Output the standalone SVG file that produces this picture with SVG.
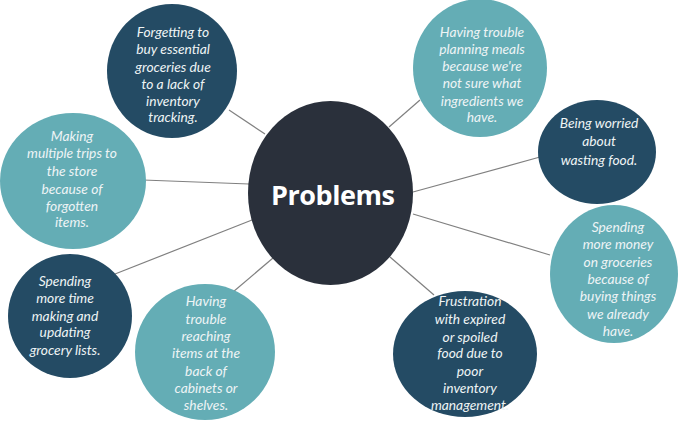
<svg xmlns="http://www.w3.org/2000/svg" width="680" height="429" viewBox="0 0 680 429">
<style>
.dark{fill:#244b64}
.teal{fill:#64adb5}
.hub{fill:#2a303b}
.t{font-family:Lato,"Liberation Sans",sans-serif;font-style:italic;font-size:13.8px;fill:#eef4f5;text-anchor:middle}
.h{font-family:"Open Sans","Liberation Sans",sans-serif;font-weight:bold;font-size:27px;fill:#ffffff;text-anchor:middle}
.c{stroke:#808080;stroke-width:1.2;fill:none}
</style>
<rect width="680" height="429" fill="#ffffff"/>
<g id="connectors">
<line class="c" x1="229" y1="110" x2="265" y2="134"/>
<line class="c" x1="420" y1="100" x2="389" y2="127"/>
<line class="c" x1="143" y1="180" x2="249" y2="184"/>
<line class="c" x1="540" y1="157" x2="413" y2="192"/>
<line class="c" x1="550" y1="255" x2="413" y2="214"/>
<line class="c" x1="115" y1="274" x2="252" y2="220"/>
<line class="c" x1="233" y1="292" x2="273" y2="258"/>
<line class="c" x1="434" y1="295" x2="390" y2="257"/>
</g>
<g id="hub">
<ellipse class="hub" cx="330.5" cy="193" rx="82.5" ry="92"/>
<text class="h" x="333" y="205" textLength="124">Problems</text>
</g>
<g id="n1">
<ellipse class="dark" cx="172" cy="71" rx="65" ry="67"/>
<text class="t"><tspan x="173" y="37">Forgetting to</tspan><tspan x="173" y="54">buy essential</tspan><tspan x="173" y="72">groceries due</tspan><tspan x="173" y="89">to a lack of</tspan><tspan x="173" y="106">inventory</tspan><tspan x="173" y="122">tracking.</tspan></text>
</g>
<g id="n2">
<ellipse class="teal" cx="480" cy="68" rx="67" ry="69"/>
<text class="t"><tspan x="482" y="37">Having trouble</tspan><tspan x="482" y="54">planning meals</tspan><tspan x="482" y="71">because we're</tspan><tspan x="482" y="88">not sure what</tspan><tspan x="482" y="106">ingredients we</tspan><tspan x="482" y="122">have.</tspan></text>
</g>
<g id="n3">
<ellipse class="teal" cx="73" cy="181" rx="73" ry="68"/>
<text class="t"><tspan x="72" y="141">Making</tspan><tspan x="72" y="158">multiple trips to</tspan><tspan x="72" y="176">the store</tspan><tspan x="72" y="194">because of</tspan><tspan x="72" y="211">forgotten</tspan><tspan x="72" y="227">items.</tspan></text>
</g>
<g id="n4">
<ellipse class="dark" cx="597" cy="152" rx="59" ry="52"/>
<text class="t"><tspan x="599" y="128">Being worried</tspan><tspan x="599" y="146">about</tspan><tspan x="599" y="165">wasting food.</tspan></text>
</g>
<g id="n5">
<ellipse class="teal" cx="614" cy="274" rx="64" ry="69"/>
<text class="t"><tspan x="618" y="232">Spending</tspan><tspan x="618" y="249">more money</tspan><tspan x="618" y="267">on groceries</tspan><tspan x="618" y="284">because of</tspan><tspan x="618" y="301">buying things</tspan><tspan x="618" y="319">we already</tspan><tspan x="618" y="336">have.</tspan></text>
</g>
<g id="n6">
<ellipse class="dark" cx="70" cy="316" rx="62" ry="62"/>
<text class="t"><tspan x="65" y="286">Spending</tspan><tspan x="65" y="303">more time</tspan><tspan x="65" y="321">making and</tspan><tspan x="65" y="337">updating</tspan><tspan x="65" y="355">grocery lists.</tspan></text>
</g>
<g id="n7">
<ellipse class="teal" cx="205" cy="352" rx="70" ry="68"/>
<text class="t"><tspan x="206" y="306">Having</tspan><tspan x="206" y="324">trouble</tspan><tspan x="206" y="341">reaching</tspan><tspan x="206" y="358">items at the</tspan><tspan x="206" y="376">back of</tspan><tspan x="206" y="393">cabinets or</tspan><tspan x="206" y="410">shelves.</tspan></text>
</g>
<g id="n8">
<ellipse class="dark" cx="465" cy="354" rx="72" ry="63"/>
<text class="t"><tspan x="470" y="306">Frustration</tspan><tspan x="470" y="324">with expired</tspan><tspan x="470" y="342">or spoiled</tspan><tspan x="470" y="358">food due to</tspan><tspan x="470" y="376">poor</tspan><tspan x="470" y="393">inventory</tspan><tspan x="470" y="410">management.</tspan></text>
</g>
</svg>
